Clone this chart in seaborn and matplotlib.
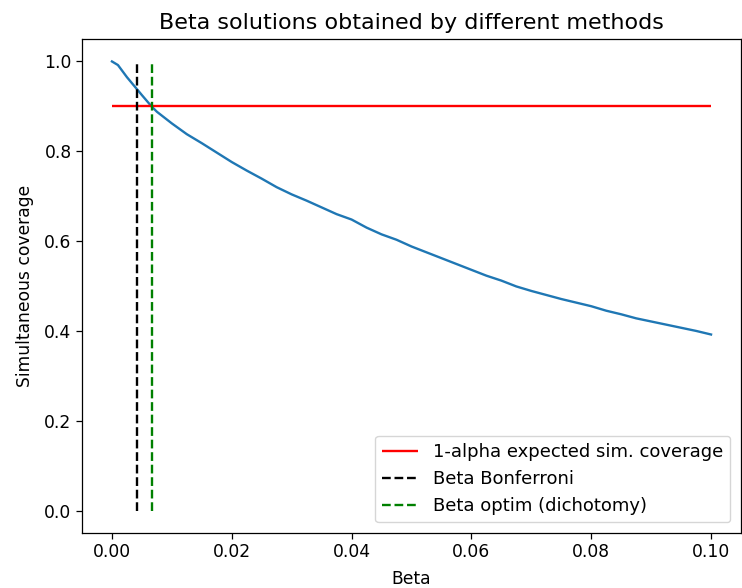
import matplotlib
matplotlib.use("Agg")
import matplotlib.pyplot as plt
import seaborn as sns
import pandas as pd

# Data
beta = [0.0, 0.001, 0.0025, 0.005, 0.0066, 0.0075, 0.01, 0.0125, 0.015, 0.0175,
        0.02, 0.0225, 0.025, 0.0275, 0.03, 0.0325, 0.035, 0.0375, 0.04, 0.0425,
        0.045, 0.0475, 0.05, 0.0525, 0.055, 0.0575, 0.06, 0.0625, 0.065, 0.0675,
        0.07, 0.0725, 0.075, 0.0775, 0.08, 0.0825, 0.085, 0.0875, 0.09, 0.0925,
        0.095, 0.0975, 0.1]
coverage = [1.000, 0.992, 0.965, 0.925, 0.900, 0.888, 0.862, 0.838, 0.818, 0.797,
            0.776, 0.757, 0.739, 0.720, 0.704, 0.690, 0.675, 0.660, 0.648, 0.630,
            0.615, 0.603, 0.588, 0.575, 0.562, 0.549, 0.536, 0.523, 0.512, 0.499,
            0.489, 0.480, 0.471, 0.463, 0.455, 0.445, 0.437, 0.428, 0.421, 0.414,
            0.407, 0.400, 0.392]
target_level = 0.9
beta_bonferroni = 0.00417
beta_optim = 0.00667

lw = 1.7
fig = plt.figure(figsize=(7.42, 5.88), dpi=100)
ax = fig.add_axes([82/742, 55/588, (741-82)/742, (533-39)/588])

df = pd.DataFrame({"beta": beta, "coverage": coverage})
sns.lineplot(data=df, x="beta", y="coverage", ax=ax, color="#1f77b4",
             linewidth=lw, label="_nolegend_")
ax.hlines(target_level, min(beta), max(beta), colors="red", linewidth=lw,
          label="1-alpha expected sim. coverage")
ax.vlines(beta_bonferroni, 0, 1, colors="black", linestyles="--", linewidth=lw,
          label="Beta Bonferroni")
ax.vlines(beta_optim, 0, 1, colors="green", linestyles="--", linewidth=lw,
          label="Beta optim (dichotomy)")

ax.set_title("Beta solutions obtained by different methods", fontsize=16, pad=7)
ax.set_xlabel("Beta", fontsize=12.3, labelpad=6)
ax.set_ylabel("Simultaneous coverage", fontsize=12.3, labelpad=7)
ax.tick_params(labelsize=12.3, width=0.9, length=4)
for sp in ax.spines.values():
    sp.set_linewidth(0.9)
ax.legend(loc="lower right", fontsize=13, borderaxespad=0.6)

fig.savefig("out.png", dpi=100)
